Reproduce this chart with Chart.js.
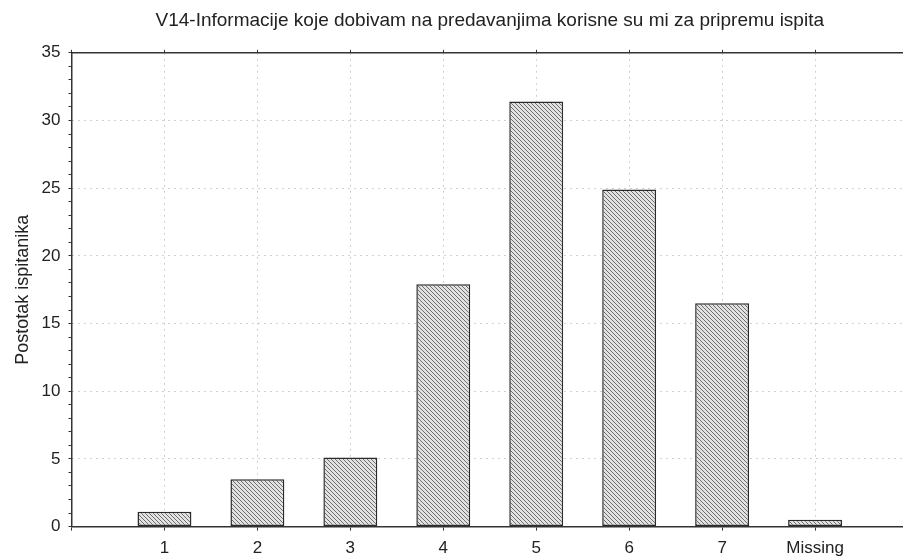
<!DOCTYPE html>
<html>
<head>
<meta charset="utf-8">
<script src="https://cdn.jsdelivr.net/npm/chart.js@4/dist/chart.umd.min.js"></script>
<style>
    html, body { margin: 0; padding: 0; background: #fff; overflow: hidden; }
    #wrap { width: 916px; height: 556px; }
</style>
</head>
<body>
<div id="wrap"><canvas id="chart"></canvas></div>
<script>
// Kategorije odgovora i postotak ispitanika
const categories = ['1', '2', '3', '4', '5', '6', '7', 'Missing'];
const percentages = [1.1, 3.5, 5.1, 17.9, 31.4, 24.9, 16.5, 0.5];
const yTicks = [0, 5, 10, 15, 20, 25, 30, 35];

const titleText = 'V14-Informacije koje dobivam na predavanjima korisne su mi za pripremu ispita';
const yTitle = 'Postotak ispitanika';

// Šrafura za stupce (kose linije na sivoj podlozi)
function makeHatch() {
    const s = 4;
    const c = document.createElement('canvas');
    c.width = s;
    c.height = s;
    const g = c.getContext('2d');
    g.fillStyle = '#e2e2e2';
    g.fillRect(0, 0, s, s);
    g.strokeStyle = '#6e6e6e';
    g.lineWidth = 1;
    g.beginPath();
    g.moveTo(-1, -1); g.lineTo(s + 1, s + 1);
    g.moveTo(-1, s - 1); g.lineTo(1, s + 1);
    g.moveTo(s - 1, -1); g.lineTo(s + 1, 1);
    g.stroke();
    return g.createPattern(c, 'repeat');
}

const font = "'Liberation Sans', Arial, sans-serif";
const axisColor = '#333';
const gridColor = '#cfcfcf';

const points = percentages.map((v, i) => ({ x: i + 1, y: v }));

new Chart(document.getElementById('chart'), {
    type: 'bar',
    data: {
        datasets: [{
            data: points,
            backgroundColor: makeHatch(),
            borderColor: '#2a2a2a',
            borderWidth: 1.5,
            borderSkipped: false,
            categoryPercentage: 1,
            barPercentage: 0.58
        }]
    },
    options: {
        responsive: true,
        maintainAspectRatio: false,
        animation: false,
        layout: { padding: { left: 12, right: 0, top: 0, bottom: -11 } },
        plugins: {
            legend: { display: false },
            tooltip: { enabled: false },
            title: {
                display: true,
                text: titleText,
                fullSize: false,
                color: '#222',
                font: { family: font, size: 19, weight: 'normal' },
                padding: { top: 9, bottom: 18 }
            }
        },
        scales: {
            x: {
                type: 'linear',
                min: 0,
                max: 9,
                offset: false,
                ticks: {
                    stepSize: 1,
                    color: '#222',
                    font: { family: font, size: 17 },
                    padding: 8,
                    maxRotation: 0,
                    autoSkip: false,
                    callback: (v) => categories[v - 1] ?? ''
                },
                grid: {
                    offset: false,
                    color: gridColor,
                    tickLength: 4,
                    tickColor: axisColor,
                    tickBorderDash: []
                },
                border: { color: axisColor, width: 1.5, dash: [2, 4] }
            },
            xTop: {
                type: 'linear',
                position: 'top',
                min: 0,
                max: 9,
                offset: false,
                ticks: { display: false, stepSize: 1 },
                grid: { offset: false, drawOnChartArea: false, tickLength: 3, color: axisColor },
                border: { color: axisColor, width: 1.5 }
            },
            y: {
                min: 0,
                max: 35,
                weight: 1,
                afterBuildTicks: (scale) => { scale.ticks = yTicks.map(v => ({ value: v })); },
                ticks: {
                    color: '#222',
                    font: { family: font, size: 17 },
                    padding: 8
                },
                grid: { color: gridColor, drawTicks: false },
                border: { display: false, dash: [2, 4] },
                title: {
                    display: true,
                    text: yTitle,
                    color: '#222',
                    font: { family: font, size: 18 },
                    padding: { top: 0, bottom: 0 }
                }
            },
            yMinor: {
                min: 0,
                max: 35,
                position: 'left',
                weight: 0,
                ticks: { display: false, stepSize: 1 },
                grid: { drawOnChartArea: false, tickLength: 3, color: axisColor },
                border: { color: axisColor, width: 1.5 }
            }
        }
    }
});
</script>
</body>
</html>
